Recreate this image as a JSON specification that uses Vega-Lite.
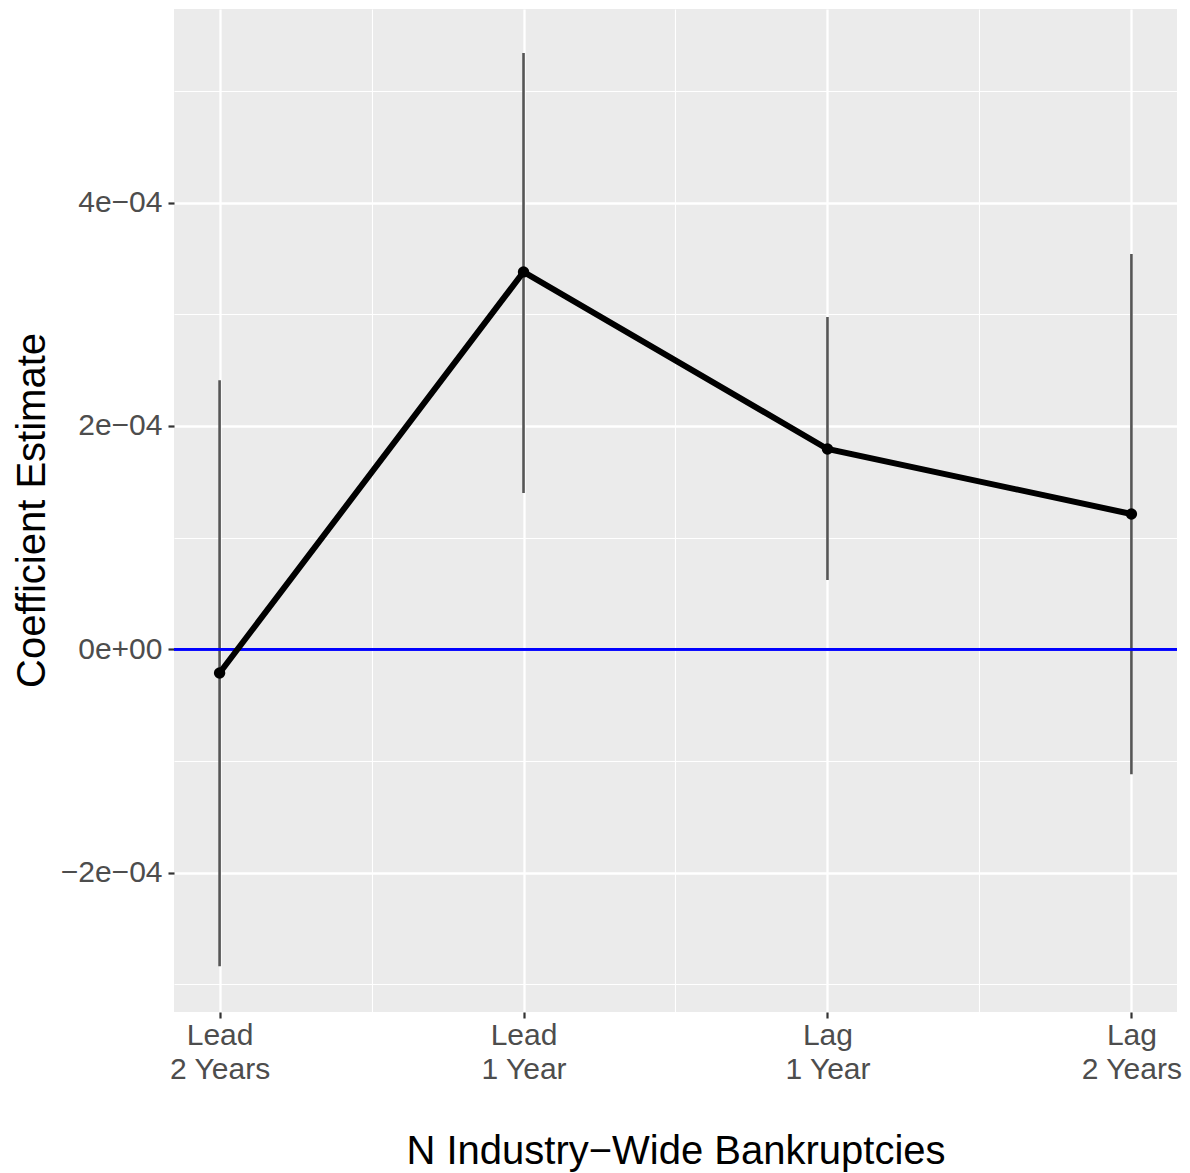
{
  "$schema": "https://vega.github.io/schema/vega-lite/v6.json",
  "width": 1003,
  "height": 1003,
  "autosize": {"type": "none"},
  "padding": {"left": 174, "top": 9, "right": 13, "bottom": 161},
  "background": "white",
  "config": {
    "view": {"fill": "#EBEBEB", "stroke": null},
    "font": "Liberation Sans"
  },
  "data": {
    "values": [
      {"pos": 1, "term": "Lead 2 Years", "est": -0.0000212, "lo": -0.000284, "hi": 0.000241},
      {"pos": 2, "term": "Lead 1 Year", "est": 0.000338, "lo": 0.000140, "hi": 0.000534},
      {"pos": 3, "term": "Lag 1 Year", "est": 0.0001794, "lo": 0.000062, "hi": 0.0002976},
      {"pos": 4, "term": "Lag 2 Years", "est": 0.0001212, "lo": -0.000112, "hi": 0.000354}
    ]
  },
  "encoding": {
    "x": {
      "field": "pos",
      "type": "quantitative",
      "scale": {"domain": [0.85, 4.15], "nice": false, "zero": false},
      "axis": {
        "title": "N Industry\u2212Wide Bankruptcies",
        "titleFont": "Liberation Sans",
        "titleFontSize": 40,
        "titleFontWeight": "normal",
        "titleColor": "black",
        "titleBaseline": "alphabetic",
        "titleY": 151,
        "values": [1, 1.5, 2, 2.5, 3, 3.5, 4],
        "labelExpr": "datum.value == 1 ? ['Lead', '2 Years'] : datum.value == 2 ? ['Lead', '1 Year'] : datum.value == 3 ? ['Lag', '1 Year'] : datum.value == 4 ? ['Lag', '2 Years'] : ''",
        "labelFont": "Liberation Sans",
        "labelFontSize": 30,
        "labelColor": "#4D4D4D",
        "labelLineHeight": 34,
        "labelPadding": 2,
        "labelBaseline": "top",
        "labelFlush": false,
        "labelOverlap": false,
        "domain": false,
        "tickColor": "#333333",
        "tickSize": 6,
        "tickWidth": 2.2,
        "tickOpacity": {"condition": {"test": "datum.value % 1 != 0", "value": 0}, "value": 1},
        "gridColor": "white",
        "gridWidth": {"condition": {"test": "datum.value % 1 != 0", "value": 1.1}, "value": 2.3}
      }
    },
    "y": {
      "type": "quantitative",
      "scale": {"domain": [-0.0003249, 0.0005735], "nice": false, "zero": false},
      "axis": {
        "title": "Coefficient Estimate",
        "titleFont": "Liberation Sans",
        "titleFontSize": 40,
        "titleFontWeight": "normal",
        "titleColor": "black",
        "titleBaseline": "alphabetic",
        "titleAngle": -90,
        "titleX": -130,
        "titleY": 501,
        "values": [-0.0003, -0.0002, -0.0001, 0, 0.0001, 0.0002, 0.0003, 0.0004, 0.0005],
        "labelExpr": "abs(round(datum.value * 10000)) % 2 == 1 ? '' : (datum.value == 0 ? '0e+00' : (datum.value < 0 ? '\u2212' : '') + format(abs(round(datum.value * 10000)), 'd') + 'e\u221204')",
        "labelFont": "Liberation Sans",
        "labelFontSize": 30,
        "labelColor": "#4D4D4D",
        "labelPadding": 6,
        "labelOverlap": false,
        "labelFlush": false,
        "domain": false,
        "tickColor": "#333333",
        "tickSize": 6,
        "tickWidth": 2.2,
        "tickOpacity": {"condition": {"test": "abs(round(datum.value * 10000)) % 2 == 1", "value": 0}, "value": 1},
        "gridColor": "white",
        "gridWidth": {"condition": {"test": "abs(round(datum.value * 10000)) % 2 == 1", "value": 1.1}, "value": 2.3}
      }
    }
  },
  "layer": [
    {
      "mark": {"type": "rule", "color": "#555555", "strokeWidth": 2.6},
      "encoding": {
        "y": {"field": "lo", "type": "quantitative"},
        "y2": {"field": "hi"}
      }
    },
    {
      "mark": {"type": "rule", "color": "#0000FF", "strokeWidth": 2.4},
      "encoding": {
        "x": {"value": 0},
        "x2": {"value": 1003},
        "y": {"datum": 0, "type": "quantitative"}
      }
    },
    {
      "mark": {"type": "line", "color": "black", "strokeWidth": 6},
      "encoding": {
        "y": {"field": "est", "type": "quantitative"}
      }
    },
    {
      "mark": {"type": "point", "filled": true, "color": "black", "opacity": 1, "size": 130},
      "encoding": {
        "y": {"field": "est", "type": "quantitative"}
      }
    }
  ]
}
